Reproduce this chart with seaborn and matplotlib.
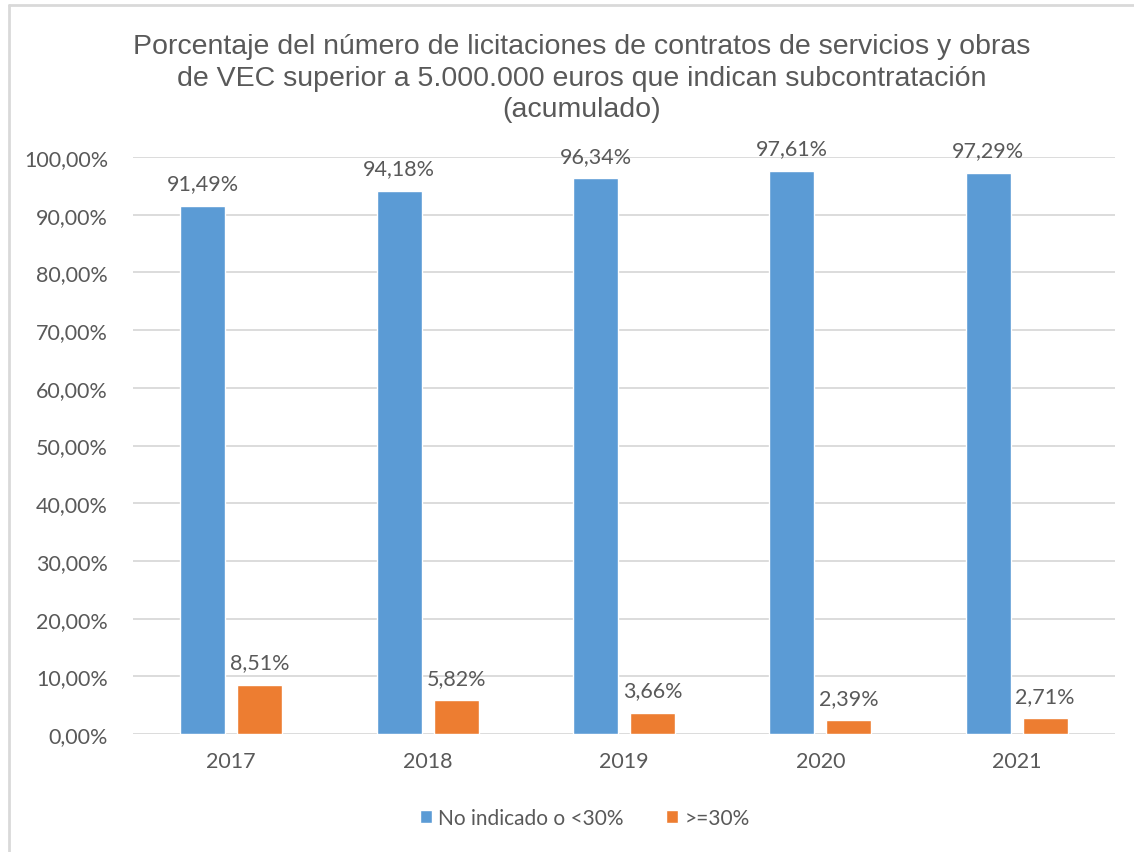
import numpy as np
import pandas as pd
import seaborn as sns
import matplotlib.pyplot as plt
from matplotlib.ticker import FuncFormatter

# data
years = ["2017", "2018", "2019", "2020", "2021"]
no_indicado = [91.49, 94.18, 96.34, 97.61, 97.29]
mayor_30 = [8.51, 5.82, 3.66, 2.39, 2.71]
series = ["No indicado o <30%", ">=30%"]

df = pd.DataFrame({
    "year": years * 2,
    "value": no_indicado + mayor_30,
    "serie": [series[0]] * 5 + [series[1]] * 5,
})

sns.set_style("white")
plt.rcParams['font.family'] = ['Lato', 'DejaVu Sans']
txt = '#595959'

fig = plt.figure(figsize=(11.34, 8.53), dpi=100)
ax = fig.add_axes([0.1173, 0.1383, 0.8659, 0.6765])

pal = {series[0]: '#5B9BD5', series[1]: '#ED7D31'}
sns.barplot(data=df, x="year", y="value", hue="serie", palette=pal,
            width=0.58, gap=0.21, saturation=1, ax=ax, zorder=3)

ax.set_ylim(0, 100)
ax.set_yticks(np.arange(0, 101, 10))
ax.yaxis.set_major_formatter(FuncFormatter(lambda v, p: f"{v:.2f}%".replace('.', ',')))
ax.grid(axis='y', color='#D9D9D9', lw=1.3, zorder=0)
ax.set_axisbelow(True)
for s in ax.spines.values():
    s.set_visible(False)
ax.tick_params(axis='both', length=0, labelsize=15.5, labelcolor=txt)
ax.tick_params(axis='y', pad=18)
ax.tick_params(axis='x', pad=12)
ax.set_xlabel("")
ax.set_ylabel("")

# data labels
for cont in ax.containers:
    labels = [f"{b.get_height():.2f}%".replace('.', ',') for b in cont]
    ax.bar_label(cont, labels=labels, padding=9, fontsize=15.5, color=txt)

fig.suptitle("Porcentaje del número de licitaciones de contratos de servicios y obras\n"
             "de VEC superior a 5.000.000 euros que indican subcontratación\n(acumulado)",
             x=0.513, y=0.96, fontsize=20.5, color=txt, family='Liberation Sans', linespacing=1.28)

ax.legend(loc='lower center', bbox_to_anchor=(0.46, -0.195), ncol=2, frameon=False,
          fontsize=15, labelcolor=txt, handlelength=0.6, handleheight=0.6,
          handletextpad=0.3, columnspacing=2.0)

# outer frame (top and left visible)
fig.add_artist(plt.Line2D([0.0075, 0.0075], [0, 0.993], color='#D9D9D9', lw=2))
fig.add_artist(plt.Line2D([0.0075, 1], [0.993, 0.993], color='#D9D9D9', lw=2))

plt.savefig('out.png', dpi=100)
